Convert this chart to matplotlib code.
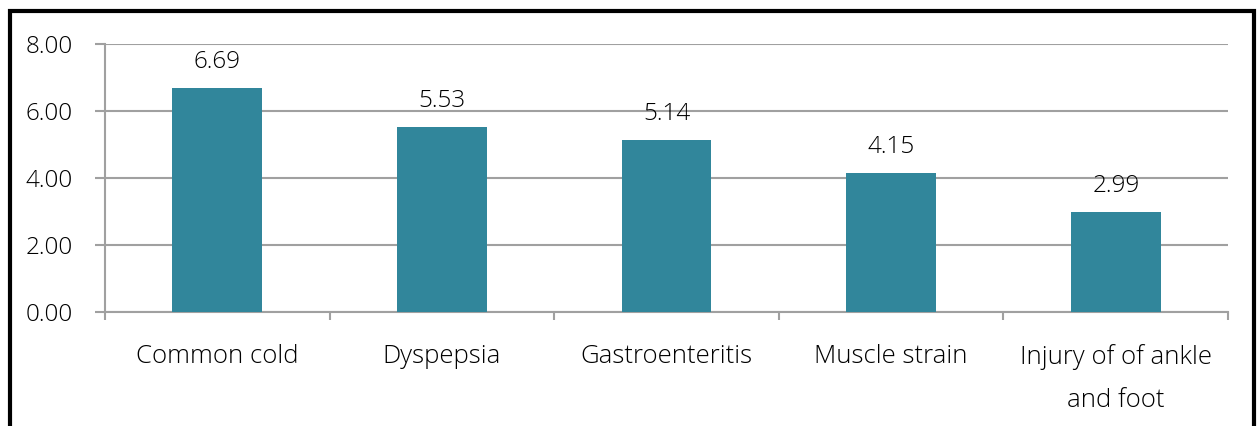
import matplotlib.pyplot as plt
from matplotlib.patches import Rectangle

categories = ['Common cold', 'Dyspepsia', 'Gastroenteritis', 'Muscle strain',
              'Injury of of ankle\nand foot']
values = [6.69, 5.53, 5.14, 4.15, 2.99]
yticks = [0, 2, 4, 6, 8]

plt.rcParams['font.family'] = ['Open Sans', 'DejaVu Sans']
plt.rcParams['font.weight'] = 'light'

fig = plt.figure(figsize=(12.57, 4.26), dpi=100)
ax = fig.add_axes([0.0835, 0.2676, 0.8935, 0.6291])

x = list(range(len(categories)))
ax.bar(x, values, width=0.4, color='#31869B', zorder=3)

for xi, v in zip(x, values):
    ax.annotate('%.2f' % v, (xi, v), xytext=(0, 10), textcoords='offset points',
                ha='center', va='bottom', fontsize=17.5, color='black')

ax.set_xlim(-0.5, len(categories) - 0.5)
ax.set_ylim(0, 8)
ax.set_yticks(yticks)
ax.set_yticklabels(['%.2f' % t for t in yticks], fontsize=17.5, color='black')
ax.yaxis.grid(True, color='#A0A0A0', linewidth=1.5, zorder=0)
ax.tick_params(axis='y', length=7, width=1.5, color='#A0A0A0', pad=16)

# ticks between categories, labels centred under bars
ax.set_xticks([i - 0.5 for i in range(len(categories) + 1)])
ax.set_xticklabels([])
ax.set_xticks(x, minor=True)
ax.set_xticklabels(categories, minor=True, fontsize=18.5, color='black', linespacing=1.95)
ax.tick_params(axis='x', which='major', length=6, width=1.5, color='#A0A0A0', direction='out')
ax.tick_params(axis='x', which='minor', length=0, pad=23)

for s in ['top', 'right']:
    ax.spines[s].set_visible(False)
ax.spines['left'].set_color('#A0A0A0')
ax.spines['left'].set_linewidth(1.5)
ax.spines['bottom'].set_color('#A0A0A0')
ax.spines['bottom'].set_linewidth(1.5)

# black frame around the chart (bottom edge falls outside the image)
fig.patches.append(Rectangle((10 / 1257, -0.1), 1244 / 1257, 1.1 - 11 / 426,
                             transform=fig.transFigure, fill=False,
                             edgecolor='black', linewidth=3))

fig.savefig('out.png', dpi=100)
